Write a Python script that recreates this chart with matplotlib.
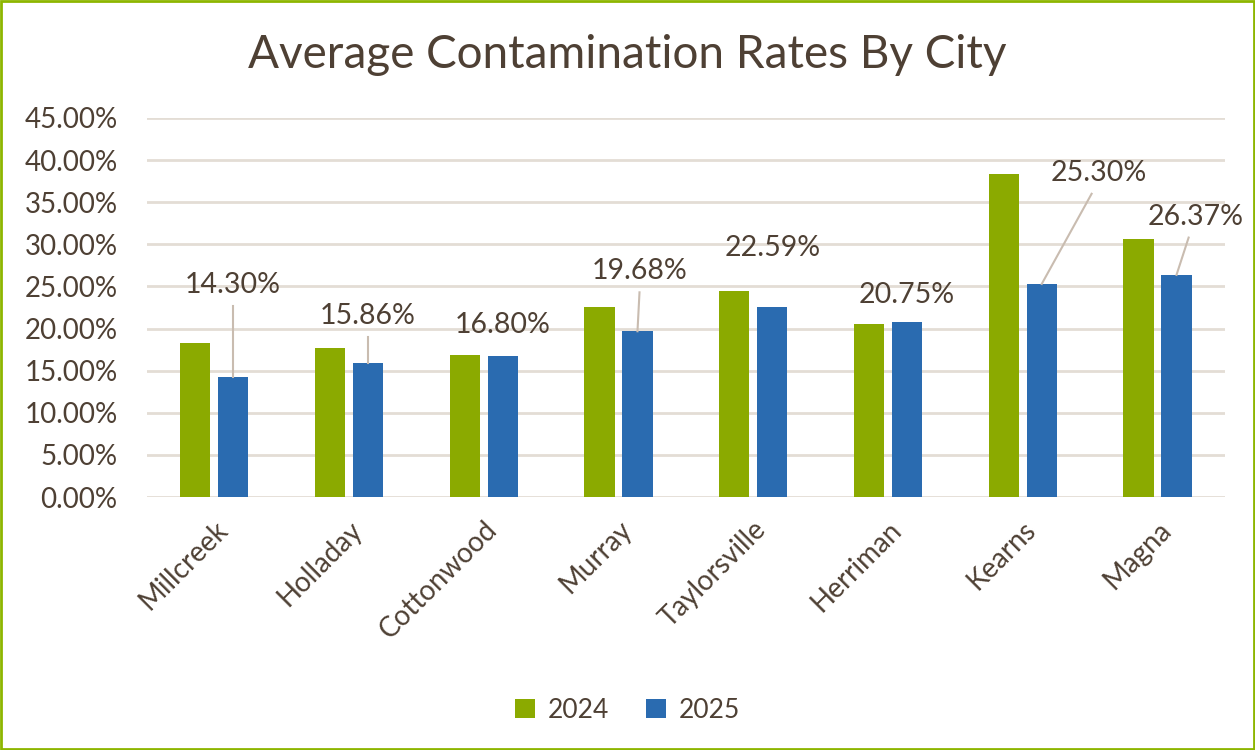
import numpy as np
import matplotlib
matplotlib.use('Agg')
import matplotlib.pyplot as plt
from matplotlib.patches import Rectangle

# Data
cities = ['Millcreek', 'Holladay', 'Cottonwood', 'Murray', 'Taylorsville',
          'Herriman', 'Kearns', 'Magna']
rates_2024 = [18.3, 17.7, 16.9, 22.6, 24.4, 20.5, 38.4, 30.6]
rates_2025 = [14.30, 15.86, 16.80, 19.68, 22.59, 20.75, 25.30, 26.37]
y_ticks = [0, 5, 10, 15, 20, 25, 30, 35, 40, 45]

# Label placement: x offset from the 2025 bar, label centre in %
label_pos = [(0.0, 25.2), (0.0, 21.5), (0.0, 20.4), (0.015, 26.8),
             (0.0, 29.6), (0.0, 24.0), (0.42, 38.5), (0.14, 33.3)]
leader = [True, True, False, True, False, False, True, True]

TEXT = '#4E4034'
GREEN = '#8BAA00'
BLUE = '#2A6BB0'
GRID = '#E3DDD5'
LEADER = '#C9BCB0'

plt.rcParams['font.family'] = ['Lato', 'DejaVu Sans']

fig = plt.figure(figsize=(12.55, 7.5), dpi=100)
ax = fig.add_axes([0.117, 0.3373, 0.859, 0.5054])

x = np.arange(len(cities))
w = 0.223
off = 0.141
ax.bar(x - off, rates_2024, width=w, color=GREEN, label='2024', zorder=3)
ax.bar(x + off, rates_2025, width=w, color=BLUE, label='2025', zorder=3)

ax.set_xlim(-0.5, len(cities) - 0.5)
ax.set_ylim(0, 45)
ax.set_yticks(y_ticks)
ax.set_yticklabels([f'{t:.2f}%' for t in y_ticks])
ax.yaxis.grid(True, color=GRID, linewidth=2, zorder=0)
ax.set_axisbelow(True)
for s in ax.spines.values():
    s.set_visible(False)
ax.tick_params(axis='both', length=0, labelsize=20, labelcolor=TEXT)
ax.tick_params(axis='y', pad=21)
ax.set_xticks(x)
ax.set_xticklabels(cities, rotation=45, ha='right', rotation_mode='anchor')
ax.tick_params(axis='x', pad=14)

for i, v in enumerate(rates_2025):
    dx, ly = label_pos[i]
    bx = x[i] + off
    lx = bx + dx
    ax.text(lx, ly, f'{v:.2f}%', ha='center', va='center', fontsize=20.5,
            color=TEXT, zorder=5)
    if leader[i]:
        ax.plot([lx - 0.05 * (dx > 0.1), bx], [ly - 2.5, v], color=LEADER,
                linewidth=1.5, zorder=4)

fig.text(0.5, 0.927, 'Average Contamination Rates By City', ha='center',
         va='center', fontsize=33, color=TEXT)

leg = fig.legend(loc='center', bbox_to_anchor=(0.5, 0.053), ncol=2,
                 frameon=False, fontsize=19, handlelength=0.75,
                 handleheight=0.75, handletextpad=0.5, columnspacing=1.4)
for t in leg.get_texts():
    t.set_color(TEXT)

fig.patches.append(Rectangle((0.001, 0.001), 0.998, 0.998,
                             transform=fig.transFigure, fill=False,
                             edgecolor='#8DB600', linewidth=2))

fig.savefig('out.png', dpi=100)
